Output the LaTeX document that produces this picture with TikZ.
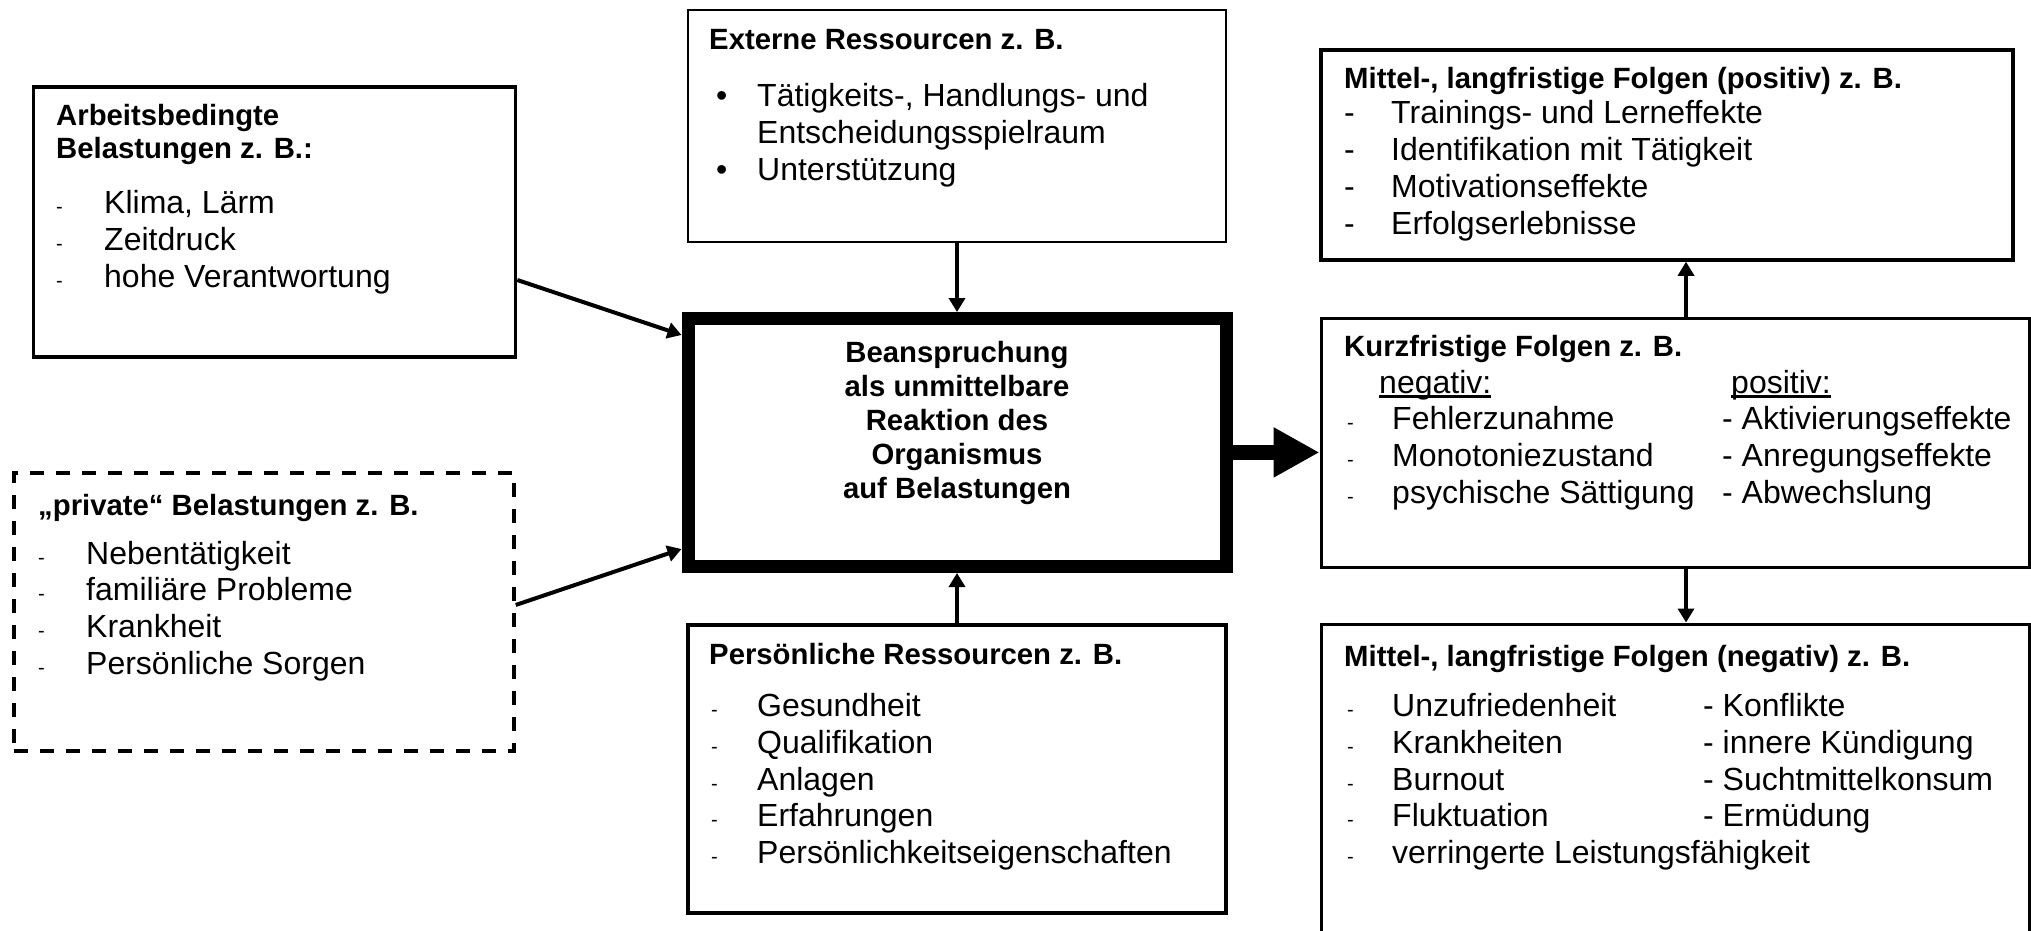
\documentclass[tikz,border=0pt]{standalone}
\usepackage{fontspec}
\setmainfont{Liberation Sans}
\usetikzlibrary{arrows.meta,calc}
\newcommand\bodyf{\fontsize{32}{36.8}\selectfont}
\newcommand\headf{\fontsize{29.3}{33.7}\selectfont\bfseries}
\newcommand\dashf{\fontsize{20}{22}\selectfont}
\newcommand\sdash[1]{\makebox[#1][l]{\dashf -}}
\newcommand\ndash[1]{\makebox[#1][l]{-}}
\newcommand\myul[1]{\setbox0\hbox{#1}\rlap{\rule[-4.5pt]{\wd0}{2.4pt}}\box0}
\begin{document}
\begin{tikzpicture}[x=1pt,y=-1pt,
  box/.style={draw, rectangle, line width=3.5pt, inner sep=0pt},
  txt/.style={anchor=base west, inner sep=0pt, font=\bodyf},
  hd/.style={anchor=base west, inner sep=0pt, font=\headf},
  ctr/.style={anchor=base, inner sep=0pt, font=\headf},
  arr/.style={line width=4pt, -{Triangle[length=14pt,width=16pt]}}]
\useasboundingbox (0,0) rectangle (2031,930);
% boxes
\node[box, minimum width=482pt, minimum height=270pt] (boxA) at (274.5,222) {};
\node[box, dash pattern=on 14pt off 12pt, minimum width=500pt, minimum height=278pt] (boxB) at (264,612) {};
\node[box, line width=2.5pt, minimum width=538pt, minimum height=232pt] (ext) at (957,126) {};
\node[box, line width=13pt, minimum width=538pt, minimum height=248pt] (cen) at (957,442.5) {};
\node[box, minimum width=538pt, minimum height=288pt] (pers) at (957,769) {};
\node[box, minimum width=692pt, minimum height=210pt] (pos) at (1667,155) {};
\node[box, line width=3pt, minimum width=708pt, minimum height=249pt] (kurz) at (1675,442.5) {};
\node[box, line width=3pt, minimum width=708pt, minimum height=326pt] (neg) at (1675,787) {};
% box A text
\node[hd] (a0) at (56,125) {Arbeitsbedingte};
\node[hd] (a00) at (56,158.5) {Belastungen z. B.:};
\node[txt] (a1) at (56,213) {\sdash{48pt}Klima, Lärm};
\node[txt] (a2) at (56,250) {\sdash{48pt}Zeitdruck};
\node[txt] (a3) at (56,287) {\sdash{48pt}hohe Verantwortung};
% box B text
\node[hd] (b0) at (38,515) {„private“ Belastungen z. B.};
\node[txt] (b1) at (38,564) {\sdash{48pt}Nebentätigkeit};
\node[txt] (b2) at (38,600.8) {\sdash{48pt}familiäre Probleme};
\node[txt] (b3) at (38,637.6) {\sdash{48pt}Krankheit};
\node[txt] (b4) at (38,674.4) {\sdash{48pt}Persönliche Sorgen};
% externe
\node[hd] (e0) at (709,49) {Externe Ressourcen z. B.};
\node[txt] (e1) at (716,106) {\makebox[41pt][l]{•}Tätigkeits-, Handlungs- und};
\node[txt] (e2) at (757,143) {Entscheidungsspielraum};
\node[txt] (e3) at (716,180) {\makebox[41pt][l]{•}Unterstützung};
% center
\node[ctr] (c1) at (957,362) {Beanspruchung};
\node[ctr] (c2) at (957,396) {als unmittelbare};
\node[ctr] (c3) at (957,430) {Reaktion des};
\node[ctr] (c4) at (957,464) {Organismus};
\node[ctr] (c5) at (957,498) {auf Belastungen};
% persoenliche
\node[hd] (p0) at (709,664) {Persönliche Ressourcen z. B.};
\node[txt] (p1) at (711,716) {\sdash{46pt}Gesundheit};
\node[txt] (p2) at (711,753) {\sdash{46pt}Qualifikation};
\node[txt] (p3) at (711,790) {\sdash{46pt}Anlagen};
\node[txt] (p4) at (711,826) {\sdash{46pt}Erfahrungen};
\node[txt] (p5) at (711,863) {\sdash{46pt}Persönlichkeitseigenschaften};
% positiv
\node[hd] (q0) at (1344,88) {Mittel-, langfristige Folgen (positiv) z. B.};
\node[txt] (q1) at (1344,123) {\ndash{47pt}Trainings- und Lerneffekte};
\node[txt] (q2) at (1344,160) {\ndash{47pt}Identifikation mit Tätigkeit};
\node[txt] (q3) at (1344,197) {\ndash{47pt}Motivationseffekte};
\node[txt] (q4) at (1344,234) {\ndash{47pt}Erfolgserlebnisse};
% kurzfristig
\node[hd] (k0) at (1344,356) {Kurzfristige Folgen z. B.};
\node[txt] (kn) at (1379,393) {\myul{negativ:}};
\node[txt] (kp) at (1731,393) {\myul{positiv:}};
\node[txt] (k1) at (1347,429) {\sdash{45pt}Fehlerzunahme};
\node[txt] (k2) at (1347,466) {\sdash{45pt}Monotoniezustand};
\node[txt] (k3) at (1347,503) {\sdash{45pt}psychische Sättigung};
\node[txt] (k4) at (1722,429) {- Aktivierungseffekte};
\node[txt] (k5) at (1722,466) {- Anregungseffekte};
\node[txt] (k6) at (1722,503) {- Abwechslung};
% negativ
\node[hd] (n0) at (1344,666) {Mittel-, langfristige Folgen (negativ) z. B.};
\node[txt] (n1) at (1347,716) {\sdash{45pt}Unzufriedenheit};
\node[txt] (n2) at (1347,753) {\sdash{45pt}Krankheiten};
\node[txt] (n3) at (1347,790) {\sdash{45pt}Burnout};
\node[txt] (n4) at (1347,826) {\sdash{45pt}Fluktuation};
\node[txt] (n5) at (1347,863) {\sdash{45pt}verringerte Leistungsfähigkeit};
\node[txt] (n6) at (1703,716) {- Konflikte};
\node[txt] (n7) at (1703,753) {- innere Kündigung};
\node[txt] (n8) at (1703,790) {- Suchtmittelkonsum};
\node[txt] (n9) at (1703,826) {- Ermüdung};
% connectors
\coordinate (aS) at ($(boxA.north east)!0.712!(boxA.south east)$);
\coordinate (aE) at ($(cen.north west)!0.088!(cen.south west)$);
\coordinate (bS) at ($(boxB.north east)!0.475!(boxB.south east)$);
\coordinate (bE) at ($(cen.north west)!0.908!(cen.south west)$);
\coordinate (bigS) at ($(cen.north east)!0.538!(cen.south east)$);
\coordinate (kTop) at ($(kurz.north west)!0.5155!(kurz.north east)$);
\coordinate (kBot) at ($(kurz.south west)!0.5155!(kurz.south east)$);
\draw[arr] (aS) -- (aE);
\draw[arr] (bS) -- (bE);
\draw[arr] (ext.south) -- (cen.north);
\draw[arr] (pers.north) -- (cen.south);
\draw[arr] (kTop) -- (kTop |- pos.south);
\draw[arr] (kBot) -- (kBot |- neg.north);
\draw[line width=15pt, -{Triangle[length=46pt,width=47pt]}] (bigS) -- (bigS -| kurz.west);
\end{tikzpicture}
\end{document}
